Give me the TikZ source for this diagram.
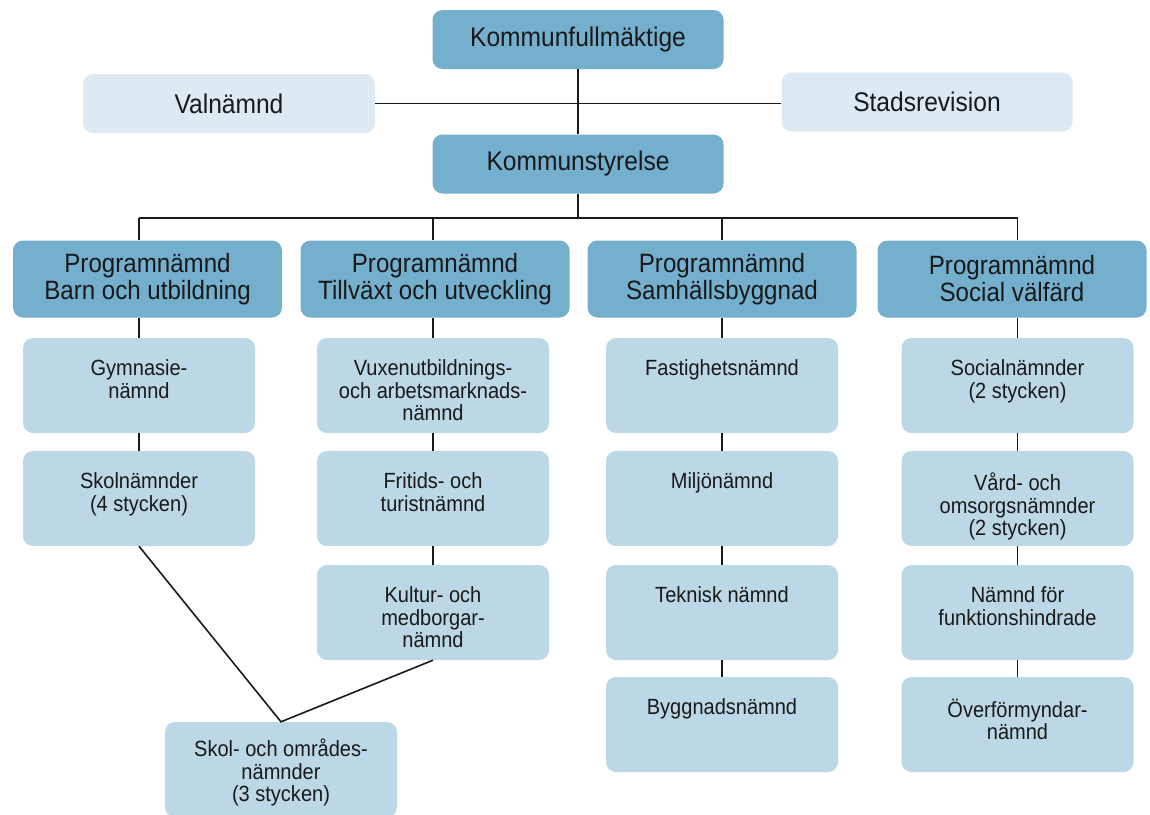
\documentclass[tikz,border=0pt]{standalone}
\usepackage{fontspec}
\setmainfont{Liberation Sans}[FakeStretch=0.91]
\definecolor{dark}{HTML}{75AFCE}
\definecolor{mid}{HTML}{BCD8E6}
\definecolor{pale}{HTML}{DDEAF3}
\begin{document}
\begin{tikzpicture}[x=1pt,y=-1pt,
  box/.style={rectangle, rounded corners=10pt, draw=none, inner sep=0pt, align=center, text=black!90},
  topbox/.style={box, fill=dark, minimum width=291pt, minimum height=59pt, font=\fontsize{27}{27}\selectfont},
  sidebox/.style={box, fill=pale, minimum width=292pt, minimum height=59pt, font=\fontsize{27}{27}\selectfont},
  progbox/.style={box, fill=dark, minimum width=269pt, minimum height=77pt, font=\fontsize{26.5}{27}\selectfont},
  subbox/.style={box, fill=mid, minimum width=232pt, minimum height=95pt},
  sublbl/.style={anchor=north, yshift=-22pt, inner sep=0pt, align=center, text=black!90, font=\fontsize{22}{22.5}\selectfont},
  link/.style={line width=1.6pt, draw=black!90}]
\useasboundingbox (0,0) rectangle (1150,814);
\fill[white] (0,0) rectangle (1150,814);
\clip (0,0) rectangle (1150,814);

% top level
\node[topbox] (kf) at (578,39.5) {Kommunfullmäktige};
\node[sidebox] (val) at (229,103.5) {Valnämnd};
\node[sidebox, minimum width=291pt] (stad) at (927,102) {Stadsrevision};
\node[topbox] (ks) at (578,164) {Kommunstyrelse};

% bus coordinates
\coordinate (b1) at (139,218);
\coordinate (b2) at (433,218);
\coordinate (b3) at (722,218);
\coordinate (b4) at (1017.5,218);

% program boxes
\node[progbox] (p1) at (147.5,279) {Programnämnd\\Barn och utbildning};
\node[progbox] (p2) at (435,279) {Programnämnd\\Tillväxt och utveckling};
\node[progbox] (p3) at (722,279) {Programnämnd\\Samhällsbyggnad};
\node[progbox] (p4) at (1012,279) {Programnämnd\\Social välfärd};

% column 1
\node[subbox, label={[sublbl,name=g1t]north:{Gymnasie-\\nämnd}}] (g1) at (139,385.5) {};
\node[subbox, label={[sublbl,name=s1t]north:{Skolnämnder\\(4 stycken)}}] (s1) at (139,498.5) {};
% column 2
\node[subbox, label={[sublbl,name=v2t]north:{Vuxenutbildnings-\\och arbetsmarknads-\\nämnd}}] (v2) at (433,385.5) {};
\node[subbox, label={[sublbl,name=f2t]north:{Fritids- och\\turistnämnd}}] (f2) at (433,498.5) {};
\node[subbox, label={[sublbl,name=k2t]north:{Kultur- och\\medborgar-\\nämnd}}] (k2) at (433,612.5) {};
% column 3
\node[subbox, label={[sublbl,name=f3t]north:{Fastighetsnämnd}}] (f3) at (722,385.5) {};
\node[subbox, label={[sublbl,name=m3t]north:{Miljönämnd}}] (m3) at (722,498.5) {};
\node[subbox, label={[sublbl,name=t3t]north:{Teknisk nämnd}}] (t3) at (722,612.5) {};
\node[subbox, label={[sublbl,name=y3t]north:{Byggnadsnämnd}}] (y3) at (722,724.5) {};
% column 4
\node[subbox, label={[sublbl,name=s4t]north:{Socialnämnder\\(2 stycken)}}] (s4) at (1017.5,385.5) {};
\node[subbox, label={[sublbl,name=v4t]north:{Vård- och\\omsorgsnämnder\\(2 stycken)}}] (v4) at (1017.5,498.5) {};
\node[subbox, label={[sublbl,name=n4t]north:{Nämnd för\\funktionshindrade}}] (n4) at (1017.5,612.5) {};
\node[subbox, label={[sublbl,name=o4t]north:{Överförmyndar-\\nämnd}}] (o4) at (1017.5,724.5) {};
% bottom shared box
\node[subbox, label={[sublbl,yshift=5pt,name=sot]north:{Skol- och områdes-\\nämnder\\(3 stycken)}}] (so) at (281,769.5) {};

% connectors
\draw[link] (kf) -- (ks);
\draw[link] (val.east) -- (val.east -| stad.west);
\draw[link] (ks.south) -- (ks.south |- b1);
\draw[link] (b1) -- (b4);
\draw[link] (b1) -- (b1 |- p1.north);
\draw[link] (b2) -- (b2 |- p2.north);
\draw[link] (b3) -- (b3 |- p3.north);
\draw[link] (b4) -- (b4 |- p4.north);

\draw[link] (p1.south -| g1) -- (g1.north);
\draw[link] (g1.south) -- (s1.north);
\draw[link] (p2.south -| v2) -- (v2.north);
\draw[link] (v2.south) -- (f2.north);
\draw[link] (f2.south) -- (k2.north);
\draw[link] (p3.south -| f3) -- (f3.north);
\draw[link] (f3.south) -- (m3.north);
\draw[link] (m3.south) -- (t3.north);
\draw[link] (t3.south) -- (y3.north);
\draw[link] (p4.south -| s4) -- (s4.north);
\draw[link] (s4.south) -- (v4.north);
\draw[link] (v4.south) -- (n4.north);
\draw[link] (n4.south) -- (o4.north);

\draw[link] (s1.south) -- (so.north) -- (k2.south);
\end{tikzpicture}
\end{document}
